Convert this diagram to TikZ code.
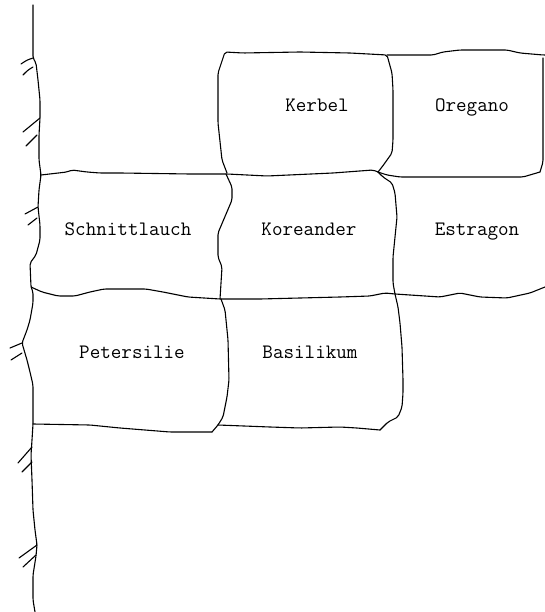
\documentclass[tikz,border=0pt]{standalone}
\usepackage{fontspec}
\begin{document}
\begin{tikzpicture}[x=1pt,y=-1pt,
  wob/.style={draw=black, line width=1.1pt, line join=round, line cap=round, rounded corners=2pt},
  hatch/.style={draw=black, line width=1.1pt, line cap=round},
  lbl/.style={font=\ttfamily\fontsize{20.5}{22}\selectfont, inner sep=0pt, anchor=base}]
\useasboundingbox (0,0) rectangle (545,612);
% wall
\draw[wob] (33,5) -- (33,58) -- (36,63) -- (38,80) -- (40,100) -- (40,118) -- (39,135) -- (39,160) -- (41,175)
  -- (39,190) -- (38,207) -- (40,225) -- (40,240) -- (36,255) -- (30,263) -- (31,287) -- (33,292) -- (33,303)
  -- (30,320) -- (27,330) -- (22,343) -- (27,360) -- (30,372) -- (33,385) -- (33,424) -- (32,440) -- (31,455)
  -- (32,480) -- (33,510) -- (35,530) -- (37,545) -- (36,556) -- (33,575) -- (33,600) -- (35,612);
% hatch marks
\draw[hatch] (21,64) .. controls (27,60) .. (33,58);
\draw[hatch] (23,75) .. controls (28,70) .. (33,67);
\draw[hatch] (23,132) .. controls (31,125) .. (40,118);
\draw[hatch] (26,146) .. controls (31,140) .. (37,135);
\draw[hatch] (25,214) .. controls (31,210) .. (38,207);
\draw[hatch] (28,225) .. controls (33,221) .. (37,218);
\draw[hatch] (10,348) .. controls (16,345) .. (22,343);
\draw[hatch] (11,360) .. controls (16,356) .. (22,353);
\draw[hatch] (18,463) .. controls (25,455) .. (32,447);
\draw[hatch] (22,472) .. controls (27,467) .. (32,462);
\draw[hatch] (19,558) .. controls (28,551) .. (37,545);
\draw[hatch] (23,567) .. controls (30,561) .. (36,555);
% Kerbel box
\draw[wob] (227,173) -- (222,160) -- (218,123) -- (218,73) -- (225,52) -- (243,53) -- (300,52) -- (350,53) -- (387,55)
  -- (392,73) -- (393,90) -- (393,140) -- (392,153) -- (382,167) -- (378,172);
% Oregano box
\draw[wob] (387,55) -- (433,55) -- (443,52) -- (460,50) -- (507,50) -- (520,53) -- (543,55) -- (545,55);
\draw[wob] (543,58) -- (543,162) -- (540,172);
\draw[wob] (378,172) -- (387,175) -- (400,177) -- (467,177) -- (523,177) -- (540,172);
% row 2 top
\draw[wob] (41,175) -- (67,172) -- (72,170) -- (87,172) -- (100,173) -- (120,173) -- (190,174) -- (227,174)
  -- (267,176) -- (333,173) -- (373,170) -- (378,172);
% Koreander left edge
\draw[wob] (226,174) -- (232,187) -- (232,200) -- (218,233) -- (218,257) -- (222,267) -- (220,299);
% Koreander / Estragon divider
\draw[wob] (378,172) -- (383,177) -- (392,183) -- (395,193) -- (397,217) -- (395,237) -- (393,257) -- (393,283) -- (395,294);
% row 2 bottom
\draw[wob] (31,287) -- (42,292) -- (58,296) -- (75,296) -- (90,292) -- (104,289) -- (146,289) -- (163,292)
  -- (188,297) -- (220,299) -- (260,299) -- (300,298) -- (340,297) -- (370,296) -- (385,293) -- (395,294)
  -- (440,297) -- (460,293) -- (480,297) -- (507,298) -- (530,293) -- (545,287);
% Petersilie / Basilikum divider
\draw[wob] (221,299) -- (225,310) -- (228,340) -- (229,380) -- (227,397) -- (223,417) -- (218,425) -- (212,432);
% Basilikum right edge
\draw[wob] (395,294) -- (398,307) -- (400,323) -- (402,347) -- (403,380) -- (403,393) -- (402,407) -- (398,417)
  -- (388,422) -- (380,430);
% row 3 bottom
\draw[wob] (33,424) -- (90,425) -- (120,428) -- (170,432) -- (212,432);
\draw[wob] (218,425) -- (270,427) -- (300,428) -- (340,427) -- (357,428) -- (380,430);
% labels
\node[lbl] (kerbel) at (317,112) {Kerbel};
\node[lbl] (oregano) at (472,112) {Oregano};
\node[lbl] (schnitt) at (128,235) {Schnittlauch};
\node[lbl] (korea) at (309,235) {Koreander};
\node[lbl] (estragon) at (477,235) {Estragon};
\node[lbl] (peter) at (132,358) {Petersilie};
\node[lbl] (basil) at (310,358) {Basilikum};
\end{tikzpicture}
\end{document}
